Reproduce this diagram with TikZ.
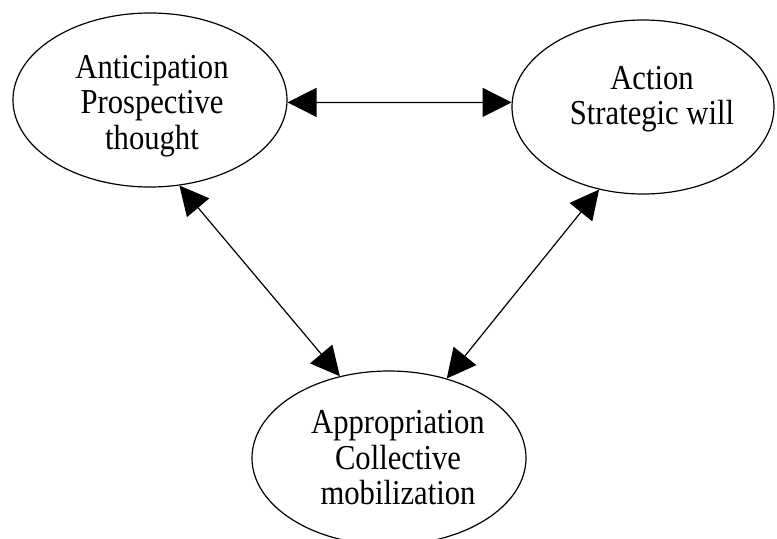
\documentclass[tikz,border=0pt]{standalone}
\usepackage{fontspec}
\setmainfont{Liberation Serif}[FakeStretch=0.875]
\usetikzlibrary{shapes.geometric, arrows.meta}

\begin{document}
\begin{tikzpicture}[x=0.5pt, y=0.5pt, >={Triangle[length=14.5pt, width=14.5pt]}, line width=0.6pt,
        bubble/.style={ellipse, draw, inner sep=0pt, minimum height=87pt},
        caption/.style={align=center, inner sep=0pt, font=\fontsize{17.5}{17.75}\selectfont}]
                \useasboundingbox (0, 0) rectangle (777, 538);
                \node[bubble, minimum width=137pt] (ant) at (150, 438) {};
                \node[bubble, minimum width=131pt] (act) at (643, 431) {};
                \node[bubble, minimum width=137pt] (app) at (389, 80) {};
                \node[caption] (anttext) at ([shift={(2, -6)}]ant.center) {Anticipation\\Prospective\\thought};
                \node[caption] (acttext) at ([shift={(9, 8)}]act.center) {Action\\Strategic will};
                \node[caption] (apptext) at ([shift={(9, 0)}]app.center) {Appropriation\\Collective\\mobilization};
                \path[<->] (ant.-1) edge (act.178)
                           (ant.-71) edge (app.121)
                           (act.242) edge (app.54);
            \end{tikzpicture}
\end{document}
